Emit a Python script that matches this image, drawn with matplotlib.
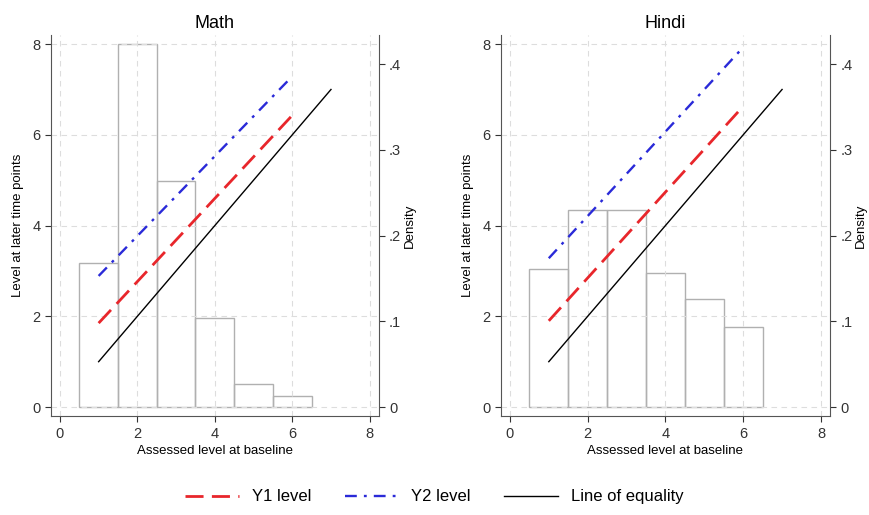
import numpy as np
import matplotlib.pyplot as plt
from matplotlib.lines import Line2D

plt.rcParams['font.family'] = ['Liberation Sans', 'DejaVu Sans']

# histogram of baseline levels (density per level)
levels = [1, 2, 3, 4, 5, 6]
math_density = [0.168, 0.423, 0.264, 0.104, 0.027, 0.013]
hindi_density = [0.161, 0.230, 0.230, 0.157, 0.126, 0.094]

# fitted lines: baseline level -> later level (endpoints)
fit_x = [1, 6]
math_y1 = [1.85, 6.43]
math_y2 = [2.89, 7.29]
hindi_y1 = [1.90, 6.63]
hindi_y2 = [3.28, 7.93]
eq_x = [1, 7]
eq_y = [1, 7]

titles = ['Math', 'Hindi']
spine_col = '#555555'
grid_col = '#dddddd'

fig = plt.figure(figsize=(8.69, 5.15), dpi=100)
boxes = [[0.0587, 0.192, 0.377, 0.740], [0.5765, 0.192, 0.3785, 0.740]]
panels = [(math_density, math_y1, math_y2), (hindi_density, hindi_y1, hindi_y2)]

for i in range(2):
    dens, y1, y2 = panels[i]
    ax = fig.add_axes(boxes[i])
    ax2 = ax.twinx()
    ax.set_zorder(ax2.get_zorder() + 1)
    ax.patch.set_visible(False)

    ax2.bar(levels, dens, width=1.0, fill=False, edgecolor='#b0b0b0', linewidth=1.0)
    ax2.set_ylim(-0.0105, 0.434)
    ax2.set_yticks([0, 0.1, 0.2, 0.3, 0.4])
    ax2.set_yticklabels(['0', '.1', '.2', '.3', '.4'])
    ax2.set_ylabel('Density', fontsize=9.5, labelpad=2)

    for g in [0, 2, 4, 6, 8]:
        ax.axvline(g, color=grid_col, lw=0.8, ls=(0, (5, 4)), zorder=0)
        ax.axhline(g, color=grid_col, lw=0.8, ls=(0, (5, 4)), zorder=0)

    ax.plot(eq_x, eq_y, color='black', lw=1.0, zorder=3)
    ax.plot(fit_x, y1, color='#e8262b', lw=2.0, ls=(0, (6.5, 3)), zorder=3)
    ax.plot(fit_x, y2, color='#2a2ad8', lw=1.7, ls=(0, (5, 3, 1.2, 3)), zorder=3)

    ax.set_xlim(-0.23, 8.23)
    ax.set_ylim(-0.2, 8.2)
    ax.set_xticks([0, 2, 4, 6, 8])
    ax.set_yticks([0, 2, 4, 6, 8])
    ax.set_title(titles[i], fontsize=13, pad=5)
    ax.set_xlabel('Assessed level at baseline', fontsize=9.5, labelpad=3)
    ax.set_ylabel('Level at later time points', fontsize=9.5, labelpad=6)

    for a in (ax, ax2):
        a.spines['top'].set_visible(False)
        for s in a.spines.values():
            s.set_color(spine_col)
        a.tick_params(colors='#333333', labelsize=10.5, length=4, width=0.8)
    ax.spines['right'].set_visible(False)
    ax2.spines['left'].set_visible(False)
    ax2.spines['bottom'].set_visible(False)

handles = [
    Line2D([], [], color='#e8262b', lw=2.0, ls=(0, (6.5, 3))),
    Line2D([], [], color='#2a2ad8', lw=1.7, ls=(0, (5, 3, 1.2, 3))),
    Line2D([], [], color='black', lw=1.0),
]
fig.legend(handles, ['Y1 level', 'Y2 level', 'Line of equality'], loc='center',
           bbox_to_anchor=(0.5, 0.035), ncol=3, frameon=False, fontsize=12,
           handlelength=3.2, columnspacing=2.0)

fig.savefig('out.png', dpi=100)
